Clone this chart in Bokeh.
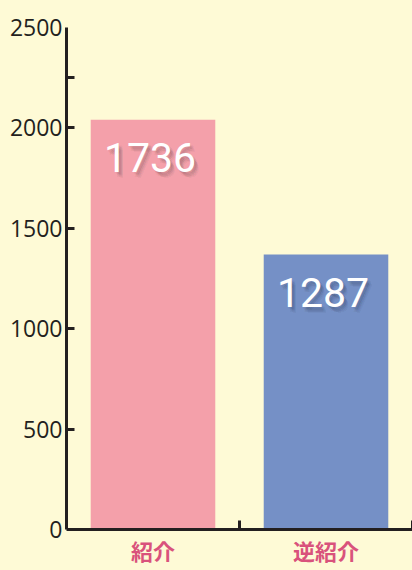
from bokeh.plotting import figure
from bokeh.models import Range1d, FixedTicker, ColumnDataSource
from bokeh.core.properties import value
from bokeh.embed import file_html
from bokeh.resources import INLINE

# data
categories = ["紹介", "逆紹介"]
bar_heights = [2040, 1370]
bar_labels = ["1736", "1287"]
y_ticks = [0, 500, 1000, 1500, 2000, 2500]

BG = "#fefad6"
AXIS = "#231f20"
bar_colors = ["#f4a0aa", "#7590c6"]

x_pos = [i + 0.5 for i in range(len(categories))]

p = figure(width=412, height=570, output_backend="svg", toolbar_location=None,
           x_range=Range1d(0, 2), y_range=Range1d(0, 2500),
           min_border_left=66, min_border_right=0, min_border_top=27, min_border_bottom=41)
p.background_fill_color = BG
p.border_fill_color = BG
p.outline_line_color = None
p.grid.visible = False

src = ColumnDataSource(dict(x=x_pos, top=bar_heights, color=bar_colors, label=bar_labels))
p.vbar(x="x", top="top", bottom=0, width=0.72, fill_color="color", line_color=None, source=src)

# soft shadow behind the value labels
for dx, dy, a in [(2, 3, 0.05), (3, 4, 0.05), (4, 5, 0.04), (1, 2, 0.05), (3, 2, 0.04),
                  (5, 6, 0.03), (2, 5, 0.04), (4, 3, 0.04)]:
    p.text(x="x", y="top", text="label", source=src, x_offset=-3 + dx, y_offset=38 + dy,
           text_font=value("Roboto"), text_font_size="41px", text_color="#000000", text_alpha=a,
           text_align="center", text_baseline="middle")
p.text(x="x", y="top", text="label", source=src, x_offset=-3, y_offset=38,
       text_font=value("Roboto"), text_font_size="41px", text_color="#ffffff",
       text_align="center", text_baseline="middle")

# y axis
ya = p.yaxis[0]
ya.ticker = FixedTicker(ticks=y_ticks, minor_ticks=[500, 1000, 1500, 2000, 2250])
ya.axis_line_width = 3
ya.axis_line_color = AXIS
ya.major_tick_in = 0
ya.major_tick_out = 0
ya.minor_tick_in = 8
ya.minor_tick_out = 0
ya.minor_tick_line_width = 3
ya.minor_tick_line_color = AXIS
ya.major_label_text_font = "Open Sans"
ya.major_label_text_font_size = "23px"
ya.major_label_text_color = AXIS
ya.major_label_standoff = 4

# x axis
xa = p.xaxis[0]
xa.ticker = FixedTicker(ticks=x_pos, minor_ticks=[1, 2])
xa.major_label_overrides = {x: c for x, c in zip(x_pos, categories)}
xa.axis_line_width = 3
xa.axis_line_color = AXIS
xa.major_tick_in = 0
xa.major_tick_out = 0
xa.minor_tick_in = 9
xa.minor_tick_out = 0
xa.minor_tick_line_width = 3
xa.minor_tick_line_color = AXIS
xa.major_label_text_font = "Noto Sans CJK JP"
xa.major_label_text_font_size = "22px"
xa.major_label_text_font_style = "bold"
xa.major_label_text_color = "#d9527c"
xa.major_label_standoff = 4

html = file_html(p, INLINE)
html = html.replace("</head>", "<style>html, body { background-color: %s; }</style></head>" % BG, 1)
open("out.html", "w").write(html)
